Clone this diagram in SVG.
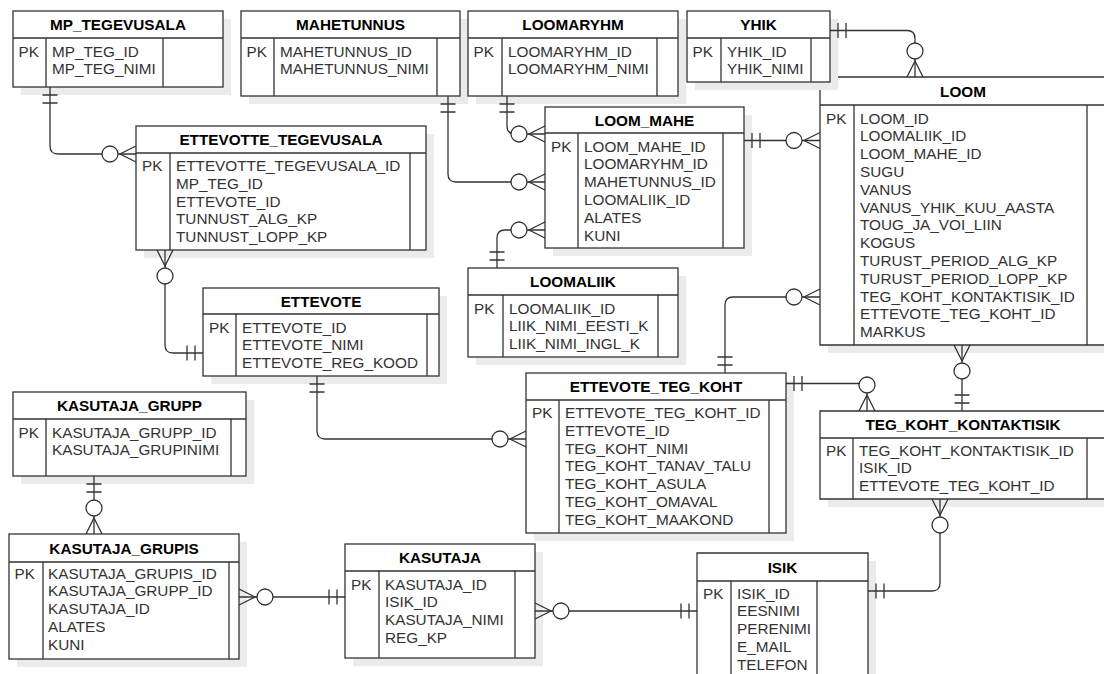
<svg xmlns="http://www.w3.org/2000/svg" width="1104" height="674" viewBox="0 0 1104 674">
<style>
.sh{fill:#ebebeb}
.bx{fill:#fff;stroke:#333;stroke-width:1.3}
.ln{stroke:#333;stroke-width:1.3;fill:none}
.t{font-family:"Liberation Sans",Arial,Helvetica,sans-serif;font-size:15.3px;font-weight:bold;fill:#000;text-anchor:middle}
.f{font-family:"Liberation Sans",Arial,Helvetica,sans-serif;font-size:15.3px;fill:#333}
.c{stroke:#333;stroke-width:1.3;fill:none}
</style>
<defs>
<marker id="one" markerUnits="userSpaceOnUse" markerWidth="40" markerHeight="40" refX="0" refY="0" orient="auto-start-reverse" overflow="visible">
<path d="M-8,-7.5V7.5M-16,-7.5V7.5" stroke="#333" stroke-width="1.3" fill="none"/>
</marker>
<marker id="many" markerUnits="userSpaceOnUse" markerWidth="40" markerHeight="40" refX="0" refY="0" orient="auto-start-reverse" overflow="visible">
<path d="M0,-8L-16,0L0,8" stroke="#333" stroke-width="1.3" fill="none"/>
<circle cx="-26" cy="0" r="8" fill="#fff" stroke="#333" stroke-width="1.3"/>
</marker>
</defs>
<rect width="1104" height="674" fill="#fff"/>

<g id="MP_TEGEVUSALA">
<rect class="sh" x="21" y="19" width="210" height="76"/>
<rect class="bx" x="13" y="11" width="210" height="76"/>
<path class="ln" d="M13,38H223M46,38V87M163,38V87"/>
<text class="t" x="118" y="30">MP_TEGEVUSALA</text>
<text class="f" x="18.5" y="56.5">PK</text>
<text class="f" x="52" y="56.5"><tspan x="52">MP_TEG_ID</tspan><tspan x="52" dy="17.8">MP_TEG_NIMI</tspan></text>
</g>

<g id="MAHETUNNUS">
<rect class="sh" x="249" y="19" width="219" height="85"/>
<rect class="bx" x="241" y="11" width="219" height="85"/>
<path class="ln" d="M241,38H460M274,38V96M437,38V96"/>
<text class="t" x="350.5" y="30">MAHETUNNUS</text>
<text class="f" x="246.5" y="56.5">PK</text>
<text class="f" x="280" y="56.5"><tspan x="280">MAHETUNNUS_ID</tspan><tspan x="280" dy="17.8">MAHETUNNUS_NIMI</tspan></text>
</g>

<g id="LOOMARYHM">
<rect class="sh" x="476" y="19" width="210" height="85"/>
<rect class="bx" x="468" y="11" width="210" height="85"/>
<path class="ln" d="M468,38H678M502,38V96M657,38V96"/>
<text class="t" x="573" y="30">LOOMARYHM</text>
<text class="f" x="473.5" y="56.5">PK</text>
<text class="f" x="508" y="56.5"><tspan x="508">LOOMARYHM_ID</tspan><tspan x="508" dy="17.8">LOOMARYHM_NIMI</tspan></text>
</g>

<g id="LOOM">
<rect class="sh" x="828" y="85" width="276" height="268"/>
<rect x="820" y="77" width="284" height="268" fill="#fff"/>
<path class="ln" d="M1104,77H820V345H1104M820,105H1104M854,105V345M1087,105V345"/>
<text class="t" x="963" y="96.5">LOOM</text>
<text class="f" x="826" y="123.5">PK</text>
<text class="f" x="860" y="123.5"><tspan x="860">LOOM_ID</tspan><tspan x="860" dy="17.8">LOOMALIIK_ID</tspan><tspan x="860" dy="17.8">LOOM_MAHE_ID</tspan><tspan x="860" dy="17.8">SUGU</tspan><tspan x="860" dy="17.8">VANUS</tspan><tspan x="860" dy="17.8">VANUS_YHIK_KUU_AASTA</tspan><tspan x="860" dy="17.8">TOUG_JA_VOI_LIIN</tspan><tspan x="860" dy="17.8">KOGUS</tspan><tspan x="860" dy="17.8">TURUST_PERIOD_ALG_KP</tspan><tspan x="860" dy="17.8">TURUST_PERIOD_LOPP_KP</tspan><tspan x="860" dy="17.8">TEG_KOHT_KONTAKTISIK_ID</tspan><tspan x="860" dy="17.8">ETTEVOTE_TEG_KOHT_ID</tspan><tspan x="860" dy="17.8">MARKUS</tspan></text>
</g>

<g id="YHIK">
<rect class="sh" x="695" y="19" width="143" height="71"/>
<rect class="bx" x="687" y="11" width="143" height="71"/>
<path class="ln" d="M687,38H830M721,38V82M811,38V82"/>
<text class="t" x="758.5" y="30">YHIK</text>
<text class="f" x="692.5" y="56.5">PK</text>
<text class="f" x="727" y="56.5"><tspan x="727">YHIK_ID</tspan><tspan x="727" dy="17.8">YHIK_NIMI</tspan></text>
</g>

<g id="LOOM_MAHE">
<rect class="sh" x="553" y="115" width="199" height="141"/>
<rect class="bx" x="545" y="107" width="199" height="141"/>
<path class="ln" d="M545,133H744M578,133V248M723,133V248"/>
<text class="t" x="644.5" y="125.5">LOOM_MAHE</text>
<text class="f" x="551" y="151.5">PK</text>
<text class="f" x="584" y="151.5"><tspan x="584">LOOM_MAHE_ID</tspan><tspan x="584" dy="17.8">LOOMARYHM_ID</tspan><tspan x="584" dy="17.8">MAHETUNNUS_ID</tspan><tspan x="584" dy="17.8">LOOMALIIK_ID</tspan><tspan x="584" dy="17.8">ALATES</tspan><tspan x="584" dy="17.8">KUNI</tspan></text>
</g>

<g id="LOOMALIIK">
<rect class="sh" x="476" y="276" width="210" height="89"/>
<rect class="bx" x="468" y="268" width="210" height="89"/>
<path class="ln" d="M468,295H678M503,295V357M658,295V357"/>
<text class="t" x="573" y="287">LOOMALIIK</text>
<text class="f" x="474" y="313.5">PK</text>
<text class="f" x="509" y="313.5"><tspan x="509">LOOMALIIK_ID</tspan><tspan x="509" dy="17.8">LIIK_NIMI_EESTI_K</tspan><tspan x="509" dy="17.8">LIIK_NIMI_INGL_K</tspan></text>
</g>

<g id="ETTEVOTTE_TEGEVUSALA">
<rect class="sh" x="144" y="134" width="290" height="124"/>
<rect class="bx" x="136" y="126" width="290" height="124"/>
<path class="ln" d="M136,153H426M170,153V250M410,153V250"/>
<text class="t" x="281" y="145">ETTEVOTTE_TEGEVUSALA</text>
<text class="f" x="142" y="171">PK</text>
<text class="f" x="176" y="171"><tspan x="176">ETTEVOTTE_TEGEVUSALA_ID</tspan><tspan x="176" dy="17.8">MP_TEG_ID</tspan><tspan x="176" dy="17.8">ETTEVOTE_ID</tspan><tspan x="176" dy="17.8">TUNNUST_ALG_KP</tspan><tspan x="176" dy="17.8">TUNNUST_LOPP_KP</tspan></text>
</g>

<g id="ETTEVOTE">
<rect class="sh" x="211" y="296" width="236" height="88"/>
<rect class="bx" x="203" y="288" width="236" height="88"/>
<path class="ln" d="M203,314H439M236,314V376M427,314V376"/>
<text class="t" x="321" y="306.5">ETTEVOTE</text>
<text class="f" x="209" y="332.5">PK</text>
<text class="f" x="242" y="332.5"><tspan x="242">ETTEVOTE_ID</tspan><tspan x="242" dy="17.8">ETTEVOTE_NIMI</tspan><tspan x="242" dy="17.8">ETTEVOTE_REG_KOOD</tspan></text>
</g>

<g id="ETTEVOTE_TEG_KOHT">
<rect class="sh" x="534" y="381" width="260" height="160"/>
<rect class="bx" x="526" y="373" width="260" height="160"/>
<path class="ln" d="M526,400H786M559,400V533M769,400V533"/>
<text class="t" x="656" y="392">ETTEVOTE_TEG_KOHT</text>
<text class="f" x="532" y="418">PK</text>
<text class="f" x="565" y="418"><tspan x="565">ETTEVOTE_TEG_KOHT_ID</tspan><tspan x="565" dy="17.8">ETTEVOTE_ID</tspan><tspan x="565" dy="17.8">TEG_KOHT_NIMI</tspan><tspan x="565" dy="17.8">TEG_KOHT_TANAV_TALU</tspan><tspan x="565" dy="17.8">TEG_KOHT_ASULA</tspan><tspan x="565" dy="17.8">TEG_KOHT_OMAVAL</tspan><tspan x="565" dy="17.8">TEG_KOHT_MAAKOND</tspan></text>
</g>

<g id="TEG_KOHT_KONTAKTISIK">
<rect class="sh" x="828" y="419" width="276" height="88"/>
<rect x="820" y="411" width="284" height="88" fill="#fff"/>
<path class="ln" d="M1104,411H820V499H1104M820,438H1104M853,438V499M1087,438V499"/>
<text class="t" x="963" y="430">TEG_KOHT_KONTAKTISIK</text>
<text class="f" x="826" y="455.5">PK</text>
<text class="f" x="859" y="455.5"><tspan x="859">TEG_KOHT_KONTAKTISIK_ID</tspan><tspan x="859" dy="17.8">ISIK_ID</tspan><tspan x="859" dy="17.8">ETTEVOTE_TEG_KOHT_ID</tspan></text>
</g>

<g id="KASUTAJA_GRUPP">
<rect class="sh" x="21" y="400" width="233" height="84"/>
<rect class="bx" x="13" y="392" width="233" height="84"/>
<path class="ln" d="M13,419H246M46,419V476M231,419V476"/>
<text class="t" x="129.5" y="411">KASUTAJA_GRUPP</text>
<text class="f" x="18.5" y="437.5">PK</text>
<text class="f" x="52" y="437.5"><tspan x="52">KASUTAJA_GRUPP_ID</tspan><tspan x="52" dy="17.8">KASUTAJA_GRUPINIMI</tspan></text>
</g>

<g id="KASUTAJA_GRUPIS">
<rect class="sh" x="17" y="542" width="230" height="125"/>
<rect class="bx" x="9" y="534" width="230" height="125"/>
<path class="ln" d="M9,562H239M43,562V659M229,562V659"/>
<text class="t" x="124" y="553.5">KASUTAJA_GRUPIS</text>
<text class="f" x="14.5" y="578.5">PK</text>
<text class="f" x="48" y="578.5"><tspan x="48">KASUTAJA_GRUPIS_ID</tspan><tspan x="48" dy="17.8">KASUTAJA_GRUPP_ID</tspan><tspan x="48" dy="17.8">KASUTAJA_ID</tspan><tspan x="48" dy="17.8">ALATES</tspan><tspan x="48" dy="17.8">KUNI</tspan></text>
</g>

<g id="KASUTAJA">
<rect class="sh" x="353" y="552" width="190" height="114"/>
<rect class="bx" x="345" y="544" width="190" height="114"/>
<path class="ln" d="M345,571H535M379,571V658M515,571V658"/>
<text class="t" x="440" y="563">KASUTAJA</text>
<text class="f" x="351" y="589.5">PK</text>
<text class="f" x="385" y="589.5"><tspan x="385">KASUTAJA_ID</tspan><tspan x="385" dy="17.8">ISIK_ID</tspan><tspan x="385" dy="17.8">KASUTAJA_NIMI</tspan><tspan x="385" dy="17.8">REG_KP</tspan></text>
</g>

<g id="ISIK">
<rect class="sh" x="705" y="561" width="171" height="113"/>
<rect x="697" y="553" width="171" height="121" fill="#fff"/>
<path class="ln" d="M697,674V553H868V674M697,581H868M731,581V674M817,581V674"/>
<text class="t" x="782.5" y="572.5">ISIK</text>
<text class="f" x="703" y="598.5">PK</text>
<text class="f" x="737" y="598.5"><tspan x="737">ISIK_ID</tspan><tspan x="737" dy="17.8">EESNIMI</tspan><tspan x="737" dy="17.8">PERENIMI</tspan><tspan x="737" dy="17.8">E_MAIL</tspan><tspan x="737" dy="17.8">TELEFON</tspan></text>
</g>

<g id="connectors">
<path class="c" d="M50,87V146Q50,154 58,154H136" marker-start="url(#one)" marker-end="url(#many)"/>
<path class="c" d="M448,96V174Q448,182 456,182H545" marker-start="url(#one)" marker-end="url(#many)"/>
<path class="c" d="M507,96V126Q507,134 515,134H545" marker-start="url(#one)" marker-end="url(#many)"/>
<path class="c" d="M497,268V238Q497,230 505,230H545" marker-start="url(#one)" marker-end="url(#many)"/>
<path class="c" d="M744,140.5H820" marker-start="url(#one)" marker-end="url(#many)"/>
<path class="c" d="M830,30.5H907Q915,30.5 915,38.5V77" marker-start="url(#one)" marker-end="url(#many)"/>
<path class="c" d="M820,297H733Q725,297 725,305V373" marker-start="url(#many)" marker-end="url(#one)"/>
<path class="c" d="M962,345V411" marker-start="url(#many)" marker-end="url(#one)"/>
<path class="c" d="M786,383.5H859Q867,383.5 867,391.5V411" marker-start="url(#one)" marker-end="url(#many)"/>
<path class="c" d="M317,376V431Q317,439 325,439H526" marker-start="url(#one)" marker-end="url(#many)"/>
<path class="c" d="M165,250V345Q165,353 173,353H203" marker-start="url(#many)" marker-end="url(#one)"/>
<path class="c" d="M94,476V534" marker-start="url(#one)" marker-end="url(#many)"/>
<path class="c" d="M239,597H345" marker-start="url(#many)" marker-end="url(#one)"/>
<path class="c" d="M535,611H697" marker-start="url(#many)" marker-end="url(#one)"/>
<path class="c" d="M940,499V583Q940,591 932,591H868" marker-start="url(#many)" marker-end="url(#one)"/>
</g>
</svg>
